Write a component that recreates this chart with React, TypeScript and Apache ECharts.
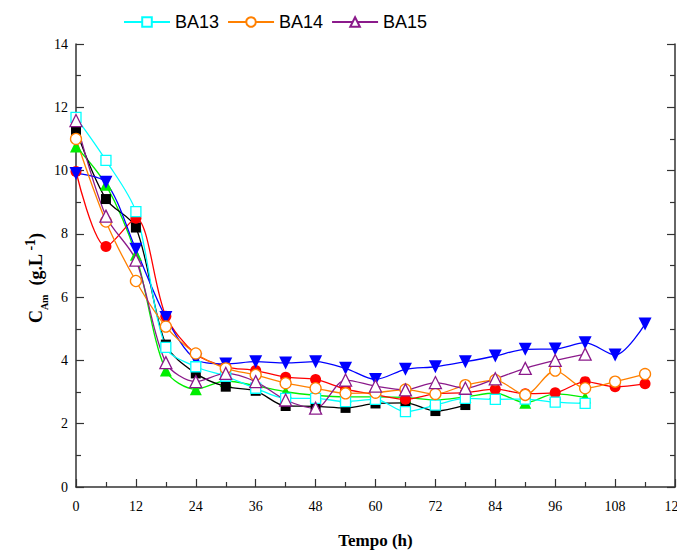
import React, { useEffect, useRef } from "react";
import * as echarts from "echarts";

// Sampling times (h)
const hours = [0, 6, 12, 18, 24, 30, 36, 42, 48, 54, 60, 66, 72, 78, 84, 90, 96, 102, 108, 114];

// Concentration C_Am (g/L) per run
const ba13 = [11.68, 10.32, 8.7, 4.41, 3.8, 3.5, 3.12, 2.8, 2.8, 2.7, 2.77, 2.38, 2.59, 2.8, 2.77, 2.78, 2.68, 2.64];
const ba14 = [11.0, 8.39, 6.51, 5.07, 4.22, 3.75, 3.54, 3.28, 3.12, 2.96, 2.98, 3.08, 2.94, 3.22, 3.38, 2.91, 3.68, 3.12, 3.33, 3.57];
const ba15 = [11.58, 8.56, 7.17, 3.93, 3.33, 3.59, 3.33, 2.75, 2.49, 3.38, 3.19, 3.07, 3.3, 3.12, 3.42, 3.75, 4.0, 4.2];
const runBlack = [11.28, 9.1, 8.2, 4.5, 3.59, 3.17, 3.04, 2.56, 2.55, 2.5, 2.64, 2.66, 2.4, 2.59];
const runRed = [9.97, 7.6, 8.49, 5.4, 4.2, 3.8, 3.68, 3.47, 3.4, 3.09, 2.92, 2.77, 2.95, 2.98, 3.09, 2.95, 2.98, 3.33, 3.17, 3.26];
const runGreen = [10.76, 9.55, 7.34, 3.68, 3.09, 3.35, 3.2, 3.01, 2.9, 2.85, 2.85, 2.83, 2.75, 2.85, 2.97, 2.66, 2.94, 2.83];
const runBlue = [9.91, 9.63, 7.51, 5.36, 4.03, 3.89, 3.96, 3.92, 3.96, 3.75, 3.4, 3.72, 3.8, 3.96, 4.14, 4.35, 4.36, 4.56, 4.17, 5.15];

const legendNames = ["BA13", "BA14", "BA15"];

const serif = "Liberation Serif";

function pairs(values: number[]) {
  return values.map((v, i) => [hours[i], v]);
}

function lineSeries(
  name: string,
  values: number[],
  color: string,
  symbol: string,
  size: number,
  hollow: boolean,
  rotate = 0
) {
  return {
    name,
    type: "line",
    data: pairs(values),
    smooth: 0.3,
    symbol,
    symbolSize: size,
    symbolRotate: rotate,
    showSymbol: true,
    lineStyle: { color, width: 1.3 },
    itemStyle: hollow
      ? { color: "#ffffff", borderColor: color, borderWidth: 1.3 }
      : { color, borderColor: color, borderWidth: 0 },
    emphasis: { disabled: true },
  };
}

export default function App() {
  const ref = useRef<HTMLDivElement>(null);

  useEffect(() => {
    if (!ref.current) return;
    const chart = echarts.init(ref.current, undefined, { renderer: "svg" });

    const axisLine = { show: true, lineStyle: { color: "#333", width: 1.5 } };
    const tick = { show: true, inside: true, length: 8, lineStyle: { color: "#333", width: 1.2 } };
    const minor = { show: true, splitNumber: 2, length: 5, lineStyle: { color: "#333", width: 1.2 } };

    const bold = { fontFamily: serif, fontWeight: "bold", color: "#000" };

    chart.setOption({
      animation: false,
      backgroundColor: "#ffffff",
      legend: {
        data: legendNames,
        left: 118,
        top: 8,
        itemWidth: 46,
        itemHeight: 12,
        itemGap: 8,
        textStyle: { fontFamily: "Liberation Sans", fontSize: 18, color: "#000" },
      },
      grid: { left: 76, right: 2, top: 44, bottom: 63, containLabel: false, outerBoundsMode: "none" },
      graphic: [
        {
          type: "text",
          x: 36,
          y: 278,
          rotation: Math.PI / 2,
          style: {
            text: "{m|C}{s|Am}{m|  (g.L}{p| -1}{m|)}",
            align: "center",
            verticalAlign: "middle",
            rich: {
              m: { ...bold, fontSize: 18, lineHeight: 26, verticalAlign: "middle" },
              s: { ...bold, fontSize: 10, lineHeight: 26, verticalAlign: "bottom" },
              p: { ...bold, fontSize: 14, lineHeight: 26, verticalAlign: "top" },
            },
          },
        },
      ],
      xAxis: {
        type: "value",
        min: 0,
        max: 120,
        interval: 12,
        axisLine,
        axisTick: tick,
        minorTick: minor,
        splitLine: { show: false },
        axisLabel: { fontFamily: serif, fontSize: 14, color: "#000", margin: 12 },
        name: "Tempo (h)",
        nameLocation: "middle",
        nameGap: 45,
        nameTextStyle: { ...bold, fontSize: 17 },
      },
      yAxis: [
        {
          type: "value",
          min: 0,
          max: 14,
          interval: 2,
          axisLine,
          axisTick: tick,
          minorTick: minor,
          splitLine: { show: false },
          axisLabel: { fontFamily: serif, fontSize: 14, color: "#000", margin: 8 },
        },
        {
          type: "value",
          position: "right",
          min: 0,
          max: 14,
          interval: 2,
          axisLine,
          axisTick: tick,
          minorTick: minor,
          splitLine: { show: false },
          axisLabel: { show: false },
        },
      ],
      series: [
        lineSeries("Run G", runGreen, "#00ee00", "triangle", 12, false),
        lineSeries("Run K", runBlack, "#000000", "rect", 10, false),
        lineSeries("Run R", runRed, "#ff0000", "circle", 11, false),
        lineSeries("Run B", runBlue, "#0000ff", "triangle", 13, false, 180),
        lineSeries("BA13", ba13, "#00ffff", "rect", 10, true),
        lineSeries("BA14", ba14, "#ff8000", "circle", 11, true),
        lineSeries("BA15", ba15, "#8b1a8b", "triangle", 12, true),
      ],
    });

    return () => chart.dispose();
  }, []);

  return (
    <div
      ref={ref}
      style={{ position: "fixed", left: 0, top: 0, width: 677, height: 550, background: "#fff" }}
    />
  );
}
